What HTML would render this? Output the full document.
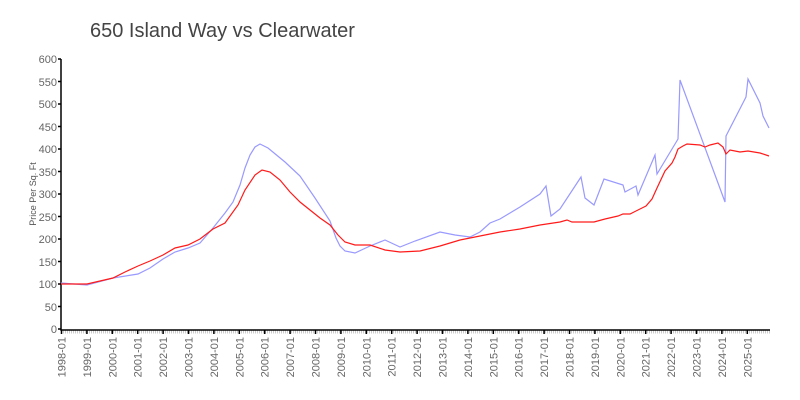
<!DOCTYPE html>
<html><head><meta charset="utf-8"><style>
body{margin:0;background:#fff}
svg{display:block;font-family:"Liberation Sans",sans-serif}
</style></head><body>
<svg width="800" height="400" viewBox="0 0 800 400" xmlns="http://www.w3.org/2000/svg">
<text x="90" y="37" font-size="20" fill="#444">650 Island Way vs Clearwater</text>
<text transform="translate(36,194) rotate(-90)" font-size="9" fill="#555" text-anchor="middle">Price Per Sq. Ft</text>
<g font-size="11" fill="#666" text-anchor="end">
<text x="57" y="63">600</text><text x="57" y="86">550</text><text x="57" y="108">500</text><text x="57" y="131">450</text><text x="57" y="153">400</text><text x="57" y="176">350</text><text x="57" y="198">300</text><text x="57" y="221">250</text><text x="57" y="243">200</text><text x="57" y="266">150</text><text x="57" y="288">100</text><text x="57" y="311">50</text><text x="57" y="333">0</text>
</g>
<line x1="61" y1="332" x2="770" y2="332" stroke="#ccc" stroke-width="3" stroke-dasharray="1 1"/>
<g stroke="#000" stroke-width="1.5" fill="none">
<path d="M61 59V330H770"/>
<path d="M58 59H61M58 81.5H61M58 104H61M58 126.5H61M58 149H61M58 171.5H61M58 194H61M58 216.5H61M58 239H61M58 261.5H61M58 284H61M58 306.5H61M58 329H61"/>
<path d="M61.5 330v4M86.9 330v4M112.3 330v4M137.7 330v4M163.1 330v4M188.5 330v4M213.9 330v4M239.3 330v4M264.7 330v4M290.1 330v4M315.5 330v4M340.9 330v4M366.3 330v4M391.7 330v4M417.1 330v4M442.5 330v4M467.9 330v4M493.3 330v4M518.7 330v4M544.1 330v4M569.5 330v4M594.9 330v4M620.3 330v4M645.7 330v4M671.1 330v4M696.5 330v4M721.9 330v4M747.3 330v4"/>
</g>
<g font-size="11" fill="#666" text-anchor="end">
<text transform="translate(65.5,337) rotate(-90)">1998-01</text>
<text transform="translate(90.9,337) rotate(-90)">1999-01</text>
<text transform="translate(116.3,337) rotate(-90)">2000-01</text>
<text transform="translate(141.7,337) rotate(-90)">2001-01</text>
<text transform="translate(167.1,337) rotate(-90)">2002-01</text>
<text transform="translate(192.5,337) rotate(-90)">2003-01</text>
<text transform="translate(217.9,337) rotate(-90)">2004-01</text>
<text transform="translate(243.3,337) rotate(-90)">2005-01</text>
<text transform="translate(268.7,337) rotate(-90)">2006-01</text>
<text transform="translate(294.1,337) rotate(-90)">2007-01</text>
<text transform="translate(319.5,337) rotate(-90)">2008-01</text>
<text transform="translate(344.9,337) rotate(-90)">2009-01</text>
<text transform="translate(370.3,337) rotate(-90)">2010-01</text>
<text transform="translate(395.7,337) rotate(-90)">2011-01</text>
<text transform="translate(421.1,337) rotate(-90)">2012-01</text>
<text transform="translate(446.5,337) rotate(-90)">2013-01</text>
<text transform="translate(471.9,337) rotate(-90)">2014-01</text>
<text transform="translate(497.3,337) rotate(-90)">2015-01</text>
<text transform="translate(522.7,337) rotate(-90)">2016-01</text>
<text transform="translate(548.1,337) rotate(-90)">2017-01</text>
<text transform="translate(573.5,337) rotate(-90)">2018-01</text>
<text transform="translate(598.9,337) rotate(-90)">2019-01</text>
<text transform="translate(624.3,337) rotate(-90)">2020-01</text>
<text transform="translate(649.7,337) rotate(-90)">2021-01</text>
<text transform="translate(675.1,337) rotate(-90)">2022-01</text>
<text transform="translate(700.5,337) rotate(-90)">2023-01</text>
<text transform="translate(725.9,337) rotate(-90)">2024-01</text>
<text transform="translate(751.3,337) rotate(-90)">2025-01</text>
</g>
<polyline fill="none" stroke="#9999ff" stroke-width="1.2" points="61,283 87,285 113,278 138,274 150,268 163,259 175,252 188,248 200,243 213,228 225,213 233,202 240,185 245,168 250,155 255,147 260,144 268,148 285,162 300,176 315,198 330,221 336,238 340,246 345,251 355,253 370,246 385,240 400,247 415,241 440,232 455,235 470,237 480,232 490,223 500,219 520,207 540,194 546,186 551,216 560,209 581,177 585,198 594,205 604,179 623,185 625,192 636,186 638,195 655,155 657,174 678,139 680,80 725,202 726,136 746,97 748,79 760,103 763,116 769,128"/>
<polyline fill="none" stroke="#ff1a1a" stroke-width="1.2" points="61,284 87,284 113,278 125,272 138,266 150,261 163,255 175,248 188,245 200,239 213,229 225,223 238,205 245,190 255,175 262,170 270,172 280,180 290,192 300,202 310,210 320,218 330,225 338,235 345,242 355,245 370,245 385,250 400,252 420,251 440,246 460,240 475,237 490,234 500,232 520,229 540,225 560,222 567,220 572,222 590,222 594,222 605,219 618,216 623,214 630,214 640,209 646,206 652,199 657,188 665,171 672,163 675,157 678,149 683,146 687,144 700,145 705,147 710,145 718,143 723,147 726,154 730,150 735,151 740,152 748,151 760,153 769,156"/>
</svg>
</body></html>
